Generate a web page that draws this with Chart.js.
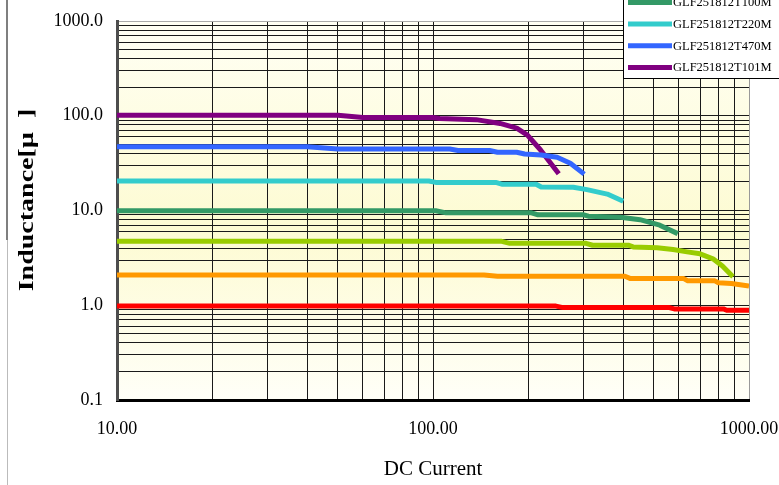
<!DOCTYPE html>
<html>
<head>
<meta charset="utf-8">
<script src="https://cdn.jsdelivr.net/npm/chart.js@4"></script>
<style>
  html, body { margin: 0; padding: 0; background: #fff; }
  #wrap { position: relative; width: 779px; height: 485px; }
</style>
</head>
<body>
<div id="wrap"><canvas id="chart" width="779" height="485"></canvas></div>
<script>
// === Data ===
const seriesNames = ["GLF251812T1R0M", "GLF251812T2R2M", "GLF251812T4R7M", "GLF251812T100M",
  "GLF251812T220M", "GLF251812T470M", "GLF251812T101M"];
const seriesColors = ["#ff0000", "#ff9900", "#99cc00", "#339966", "#33cccc", "#3366ff", "#800080"];

const t1r0Current = [10, 245, 258, 560, 580, 830, 850, 1000];
const t1r0Induct = [0.98, 0.98, 0.945, 0.945, 0.915, 0.915, 0.885, 0.885];

const t2r2Current = [10, 145, 160, 405, 420, 620, 640, 780, 800, 880, 1000];
const t2r2Induct = [2.08, 2.08, 2.02, 2.02, 1.92, 1.92, 1.81, 1.81, 1.73, 1.7, 1.6];

const t4r7Current = [10, 165, 175, 305, 320, 415, 430, 512, 575, 637, 700, 769, 824, 890];
const t4r7Induct = [4.73, 4.73, 4.5, 4.5, 4.3, 4.3, 4.13, 4.04, 3.87, 3.66, 3.49, 3.09, 2.59, 2.0];

const t100Current = [10, 102, 110, 205, 215, 300, 310, 392, 452, 522, 595];
const t100Induct = [9.95, 9.95, 9.45, 9.45, 9.0, 9.0, 8.7, 8.5, 8.0, 7.0, 5.7];

const t220Current = [10, 97, 102, 158, 166, 212, 220, 278, 307, 356, 400];
const t220Induct = [20.5, 20.5, 19.8, 19.8, 18.9, 18.9, 17.7, 17.6, 16.6, 14.9, 12.5];

const t470Current = [10, 40, 50, 113, 120, 151, 160, 184, 195, 220, 247, 272, 301];
const t470Induct = [47, 47, 44.6, 44.6, 43, 43, 41.2, 41.2, 39.5, 38.5, 36.4, 31.5, 24.2];

const t101Current = [10, 50, 60, 100, 105, 137, 163, 184, 199, 219, 250];
const t101Induct = [101, 101, 96, 96, 93.5, 91, 83, 74, 62.5, 43.5, 24.4];

const xDecades = [10, 100, 1000];
const xTickLabels = ["10.00", "100.00", "1000.00"];
const yDecades = [0.1, 1, 10, 100, 1000];
const yTickLabels = ["0.1", "1.0", "10.0", "100.0", "1000.0"];

const FONT = "'Times New Roman', 'Liberation Serif', serif";

function toPoints(xs, ys) {
  return xs.map((x, i) => ({ x: x, y: ys[i] }));
}

const seriesData = [
  toPoints(t1r0Current, t1r0Induct),
  toPoints(t2r2Current, t2r2Induct),
  toPoints(t4r7Current, t4r7Induct),
  toPoints(t100Current, t100Induct),
  toPoints(t220Current, t220Induct),
  toPoints(t470Current, t470Induct),
  toPoints(t101Current, t101Induct),
];

// 1..9 x every decade, so every minor line gets a grid line
function logTicks(decades) {
  const ticks = [];
  for (let d = 0; d < decades.length; d++) {
    const base = decades[d];
    const last = d === decades.length - 1;
    for (let k = 1; k <= (last ? 1 : 9); k++) ticks.push({ value: base * k });
  }
  return ticks;
}

function decadeLabel(value, decades, labels) {
  for (let i = 0; i < decades.length; i++) {
    if (Math.abs(value - decades[i]) / decades[i] < 1e-6) return labels[i];
  }
  return "";
}

// === Plugin: gradient plot background ===
const plotBackground = {
  id: "plotBackground",
  beforeDraw(chart) {
    const { ctx, chartArea: a } = chart;
    const g = ctx.createLinearGradient(0, a.top, 0, a.bottom);
    g.addColorStop(0, "#fffff4");
    g.addColorStop(0.55, "#fdfbd2");
    g.addColorStop(1, "#fffff8");
    ctx.save();
    ctx.fillStyle = g;
    ctx.fillRect(a.left, a.top, a.right - a.left, a.bottom - a.top);
    ctx.restore();
  },
};

// === Plugin: y title, legend box, page edge ===
const extras = {
  id: "extras",
  afterDraw(chart) {
    const ctx = chart.ctx;
    ctx.save();

    // y axis title (stretched like the original)
    ctx.translate(28, 200);
    ctx.rotate(-Math.PI / 2);
    ctx.scale(1.4, 1);
    ctx.fillStyle = "#000";
    ctx.font = "bold 20px " + FONT;
    ctx.textAlign = "center";
    ctx.textBaseline = "middle";
    ctx.fillText("Inductance[\u00b5  ]", 0, 0);
    ctx.restore();

    // legend, top part runs off the page
    ctx.save();
    ctx.fillStyle = "#fff";
    ctx.fillRect(623, -100, 170, 178.5);
    ctx.strokeStyle = "#000";
    ctx.lineWidth = 1;
    ctx.strokeRect(623.5, -100, 170, 178.5);
    ctx.font = "12.5px " + FONT;
    ctx.textBaseline = "middle";
    ctx.textAlign = "left";
    const n = seriesNames.length;
    for (let i = 0; i < n; i++) {
      const yc = 67.5 - (n - 1 - i) * 21.7;
      ctx.strokeStyle = seriesColors[i];
      ctx.lineWidth = 5;
      ctx.beginPath();
      ctx.moveTo(628, yc);
      ctx.lineTo(672, yc);
      ctx.stroke();
      ctx.fillStyle = "#000";
      ctx.fillText(seriesNames[i], 673, yc + 0.5);
    }
    ctx.restore();

    // page edge seen at the left of the screenshot
    ctx.save();
    ctx.strokeStyle = "#555";
    ctx.lineWidth = 1.5;
    ctx.beginPath();
    ctx.moveTo(7, 0);
    ctx.lineTo(7, 240);
    ctx.stroke();
    ctx.strokeStyle = "#bbb";
    ctx.lineWidth = 1;
    ctx.beginPath();
    ctx.moveTo(7.5, 240);
    ctx.lineTo(7.5, 485);
    ctx.stroke();
    ctx.restore();
  },
};

const ctx = document.getElementById("chart").getContext("2d");
new Chart(ctx, {
  type: "line",
  data: {
    datasets: seriesNames.map((name, i) => ({
      label: name,
      data: seriesData[i],
      borderColor: seriesColors[i],
      backgroundColor: seriesColors[i],
      borderWidth: 5,
      borderCapStyle: "butt",
      borderJoinStyle: "round",
      pointRadius: 0,
      tension: 0,
      fill: false,
    })),
  },
  options: {
    responsive: false,
    animation: false,
    layout: { padding: { top: 21, right: 0, left: 0, bottom: 0 } },
    plugins: {
      legend: { display: false },
      tooltip: { enabled: false },
    },
    scales: {
      x: {
        type: "logarithmic",
        min: 10,
        max: 1000,
        afterBuildTicks: (s) => { s.ticks = logTicks(xDecades); },
        afterFit: (s) => {
          s.height = 85;
          s.paddingLeft = 0;
          s.paddingRight = 30;
        },
        ticks: {
          autoSkip: false,
          maxRotation: 0,
          padding: 18,
          color: "#000",
          font: { family: FONT, size: 18 },
          callback: (v) => decadeLabel(v, xDecades, xTickLabels),
        },
        grid: {
          drawTicks: false,
          lineWidth: 1,
          color: (c) => (c.tick && c.tick.value >= 999 ? "#999" : "#1a1a1a"),
        },
        border: { color: "#000", width: 3 },
        title: {
          display: true,
          text: "DC Current",
          color: "#000",
          font: { family: FONT, size: 21 },
          padding: { top: 0, bottom: 3 },
        },
      },
      y: {
        type: "logarithmic",
        min: 0.1,
        max: 1000,
        afterBuildTicks: (s) => { s.ticks = logTicks(yDecades); },
        afterFit: (s) => {
          s.width = 117;
          s.paddingTop = 0;
          s.paddingBottom = 0;
        },
        ticks: {
          autoSkip: false,
          padding: 14,
          color: "#000",
          font: { family: FONT, size: 18 },
          callback: (v) => decadeLabel(v, yDecades, yTickLabels),
        },
        grid: {
          drawTicks: false,
          lineWidth: 1,
          color: (c) => (c.tick && c.tick.value >= 999 ? "#aaa" : "#1a1a1a"),
        },
        border: { color: "#4d4d4d", width: 3 },
      },
    },
  },
  plugins: [plotBackground, extras],
});
</script>
</body>
</html>
